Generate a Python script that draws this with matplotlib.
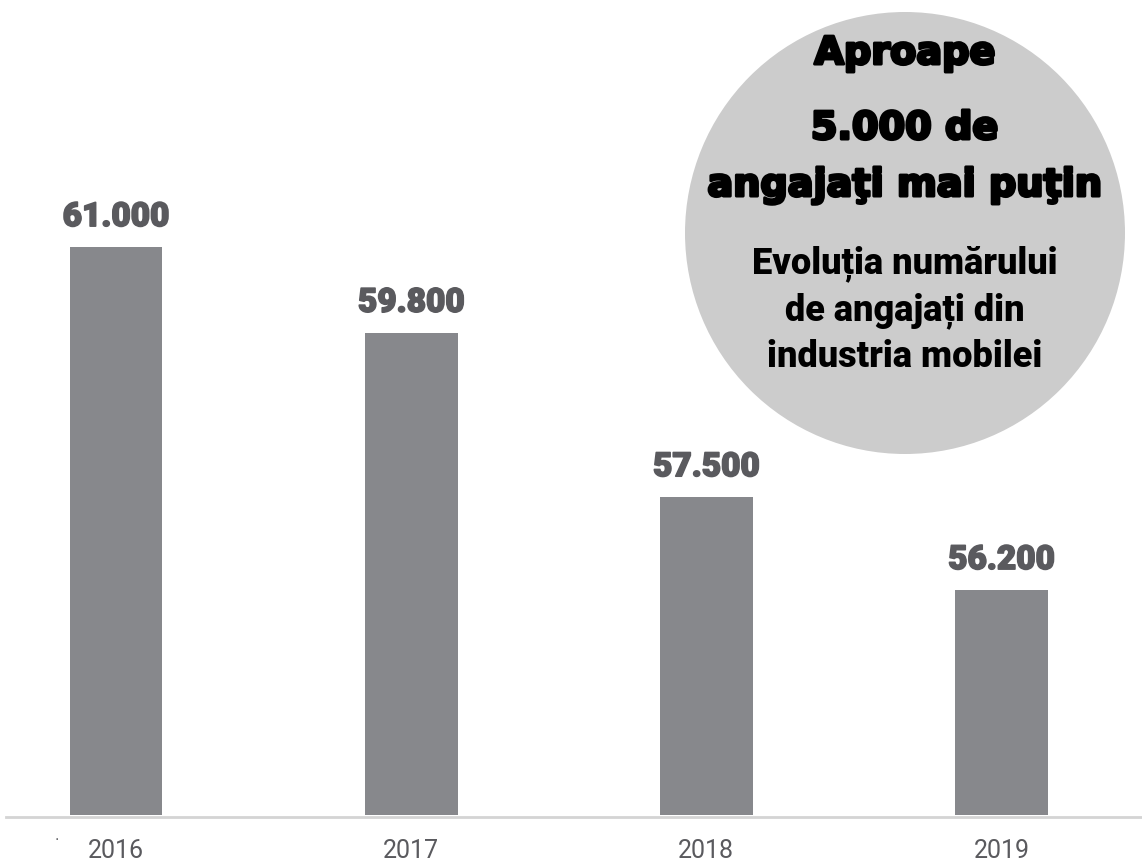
import matplotlib
matplotlib.use("Agg")
import matplotlib.pyplot as plt
import matplotlib.patheffects as pe
from matplotlib.patches import Ellipse

# date
ani = ["2016", "2017", "2018", "2019"]
angajati = [61000, 59800, 57500, 56200]
etichete = ["61.000", "59.800", "57.500", "56.200"]

titlu = ["Aproape", "5.000 de", "angajaţi mai puţin"]
subtitlu = ["Evoluția numărului", "de angajați din", "industria mobilei"]

W, H = 1142, 862
fig = plt.figure(figsize=(W / 100, H / 100), dpi=100)
fig.patch.set_facecolor("white")

# axa pe toata latimea, baza barelor la y=816 px
ax = fig.add_axes([0, (H - 816) / H, 1, 816 / H])
x = list(range(len(ani)))
ax.bar(x, angajati, width=0.315, color="#87888c", zorder=2)
ax.set_xlim(-0.393, 3.476)
ax.set_ylim(53050, 64470)
ax.axis("off")

ingust = ["Roboto", "DejaVu Sans"]
gros_gri = [pe.withStroke(linewidth=1.2, foreground="#5a5a5e")]
for xi, v, et in zip(x, angajati, etichete):
    ax.annotate(et, (xi, v), xytext=(0, 15), textcoords="offset points",
                ha="center", va="baseline", fontsize=24, fontweight="heavy",
                color="#5a5a5e", family=ingust, path_effects=gros_gri)

# linia de baza
fig.add_artist(plt.Line2D([6 / W, 1], [1 - 818 / H, 1 - 818 / H],
                          color="#d4d4d4", lw=2))

# etichete ani
for xi, an in zip(x, ani):
    px = ax.transData.transform((xi, 53050))[0] / W
    fig.text(px, 1 - 858 / H, an, ha="center", va="baseline",
             fontsize=18, color="#5a5a5e", family=ingust)
fig.text(57 / W, 1 - 844 / H, "·", ha="center", va="baseline",
         fontsize=10, color="#5a5a5e")

# cercul cu titlul
cerc = Ellipse((905 / W, 1 - 234 / H), 440 / W, 442 / H,
               transform=fig.transFigure, facecolor="#cccccc",
               edgecolor="none", zorder=3)
fig.add_artist(cerc)

gros_negru = [pe.withStroke(linewidth=2.2, foreground="black")]
for linie, yb in zip(titlu, [65, 140, 197]):
    fig.text(905 / W, 1 - yb / H, linie, ha="center", va="baseline",
             fontsize=27.5, fontweight="bold", color="black",
             family="DejaVu Sans", zorder=4, path_effects=gros_negru)

for linie, yb in zip(subtitlu, [273, 320, 367]):
    fig.text(905 / W, 1 - yb / H, linie, ha="center", va="baseline",
             fontsize=26, fontweight="heavy", color="black",
             family=ingust, zorder=4)

fig.savefig("out.png", dpi=100)
